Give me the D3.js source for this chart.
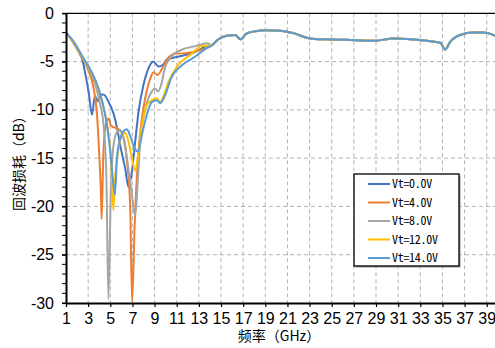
<!DOCTYPE html>
<html>
<head>
<meta charset="utf-8">
<script src="https://cdn.jsdelivr.net/npm/d3@7"></script>
<style>
  html, body { margin: 0; padding: 0; background: #fff; }
  svg { display: block; }
</style>
</head>
<body>
<svg id="chart" width="495" height="348"></svg>
<script>
// Return loss versus frequency for five bias voltages.
const seriesNames = ["Vt=0.0V", "Vt=4.0V", "Vt=8.0V", "Vt=12.0V", "Vt=14.0V"];
const seriesColors = ["#4472C4", "#ED7D31", "#A5A5A5", "#FFC000", "#5B9BD5"];

// Low band (1–14 GHz), where the bias voltage shifts the resonances: [GHz, dB]
const lowBand0V = [[1,-2.0],[1.4,-2.6],[1.8,-3.3],[2.2,-4.1],[2.5,-4.9],[2.75,-6.3],[3.05,-8.2],[3.35,-10.5],[3.6,-8.6],[3.9,-9.1],[4.05,-8.5],[4.4,-8.4],[4.85,-9.2],[5.3,-10.4],[5.6,-11.8],[5.9,-13.7],[6.35,-16.1],[6.65,-18.0],[6.95,-16.4],[7.25,-13.3],[7.55,-10.2],[8.0,-7.4],[8.45,-5.7],[8.9,-5.0],[9.35,-5.5],[9.7,-5.4],[10.1,-4.8],[11.1,-4.5],[12.5,-4.1],[13.7,-3.4]];
const lowBand4V = [[1,-2.0],[1.4,-2.6],[1.8,-3.3],[2.2,-4.1],[2.6,-4.9],[3.05,-6.0],[3.5,-7.8],[3.8,-10.5],[4.0,-14.5],[4.15,-18.5],[4.22,-21.3],[4.35,-15.5],[4.55,-11.8],[4.85,-10.9],[5.05,-11.6],[5.3,-11.8],[5.6,-11.9],[6.05,-12.4],[6.5,-15.2],[6.8,-20.2],[6.97,-29.9],[7.2,-22.0],[7.5,-15.0],[7.85,-10.9],[8.15,-8.8],[8.6,-6.8],[8.9,-6.1],[9.25,-6.4],[9.7,-5.7],[10.1,-4.8],[10.85,-4.2],[12.0,-4.1],[13.1,-3.8]];
const lowBand8V = [[1,-2.0],[1.4,-2.6],[1.8,-3.2],[2.2,-4.0],[2.6,-4.8],[3.05,-5.7],[3.65,-7.4],[4.1,-9.5],[4.4,-11.6],[4.65,-17.0],[4.83,-29.6],[5.05,-18.5],[5.3,-13.6],[5.6,-12.3],[5.9,-12.1],[6.2,-13.0],[6.5,-15.0],[6.9,-18.3],[7.25,-21.0],[7.5,-17.0],[7.7,-13.3],[8.1,-10.2],[8.75,-8.1],[9.05,-7.8],[9.3,-8.1],[9.6,-7.4],[9.9,-5.8],[10.5,-4.5],[11.4,-3.8],[12.7,-3.4],[13.7,-3.1]];
const lowBand12V = [[1,-2.0],[1.4,-2.6],[1.8,-3.2],[2.2,-4.0],[2.6,-4.8],[3.05,-5.6],[3.65,-7.0],[4.25,-9.1],[4.55,-10.5],[4.85,-12.6],[5.1,-15.7],[5.27,-20.4],[5.45,-16.8],[5.75,-14.0],[6.05,-12.6],[6.35,-12.4],[6.65,-13.3],[6.95,-15.0],[7.25,-16.3],[7.55,-14.3],[7.85,-11.6],[8.3,-9.5],[8.75,-9.0],[9.2,-8.8],[9.5,-9.2],[9.8,-8.6],[10.25,-7.1],[11.1,-5.4],[12.35,-4.2],[13.2,-3.4]];
const lowBand14V = [[1,-2.0],[1.4,-2.5],[1.8,-3.1],[2.2,-3.9],[2.6,-4.7],[3.05,-5.5],[3.65,-6.9],[4.25,-9.0],[4.7,-11.6],[5.0,-14.3],[5.2,-16.8],[5.42,-18.8],[5.6,-15.0],[5.9,-13.0],[6.2,-12.2],[6.5,-12.0],[6.8,-12.7],[7.2,-14.0],[7.5,-14.3],[7.85,-12.6],[8.3,-10.5],[8.75,-9.2],[9.2,-9.0],[9.5,-9.3],[9.95,-8.5],[10.5,-6.7],[11.45,-5.4],[12.65,-4.5],[13.7,-3.6]];

// Upper band (14–40 GHz), where all five traces coincide: [GHz, dB]
const highBand = [[14.2,-3.3],[14.6,-2.85],[14.9,-2.6],[15.6,-2.3],[16.3,-2.25],[16.75,-2.7],[17.3,-2.1],[18.1,-1.85],[19.1,-1.75],[20.3,-1.8],[21.5,-2.05],[23.0,-2.6],[24.5,-2.7],[26.3,-2.75],[28.8,-2.85],[30.6,-2.6],[31.8,-2.65],[33.6,-2.85],[34.8,-3.05],[35.25,-3.75],[35.7,-2.95],[36.6,-2.25],[37.8,-2.0],[38.7,-2.0],[40,-2.45]];

const xTickValues = d3.range(1, 40, 2);           // 1, 3, ..., 39
const yTickValues = [0, -5, -10, -15, -20, -25, -30];
const yMinorTicks = d3.range(-30, 1, 1);

const lowBands = [lowBand0V, lowBand4V, lowBand8V, lowBand12V, lowBand14V];
const series = seriesNames.map((name, i) => ({
  name, color: seriesColors[i], points: lowBands[i].concat(highBand)
}));

const svg = d3.select("#chart");
const plot = { left: 66, right: 497.8, top: 13.3, bottom: 303 };

const x = d3.scaleLinear().domain([1, 40]).range([plot.left, plot.right]);
const y = d3.scaleLinear().domain([-30, 0]).range([plot.bottom, plot.top]);

// dashed grid
const grid = svg.append("g").attr("stroke", "#b3b3b3").attr("stroke-width", 1)
  .attr("stroke-dasharray", "4,3");
grid.selectAll("line.v").data(xTickValues.filter(d => d > 1)).join("line")
  .attr("x1", d => x(d)).attr("x2", d => x(d))
  .attr("y1", plot.top).attr("y2", plot.bottom);
grid.selectAll("line.h").data(yTickValues.filter(d => d < 0 && d > -30)).join("line")
  .attr("x1", plot.left).attr("x2", plot.right)
  .attr("y1", d => y(d)).attr("y2", d => y(d));

// traces
const line = d3.line().x(d => x(d[0])).y(d => y(d[1])).curve(d3.curveMonotoneX);
svg.append("defs").append("clipPath").attr("id", "plotClip")
  .append("rect").attr("x", plot.left).attr("y", plot.top - 2)
  .attr("width", plot.right - plot.left).attr("height", plot.bottom - plot.top + 2);
svg.append("g").attr("clip-path", "url(#plotClip)")
  .selectAll("path").data(series).join("path")
  .attr("fill", "none").attr("stroke", d => d.color)
  .attr("stroke-width", 2).attr("stroke-linejoin", "round")
  .attr("d", d => line(d.points));

// top frame line
svg.append("line").attr("x1", plot.left).attr("x2", plot.right)
  .attr("y1", plot.top).attr("y2", plot.top)
  .attr("stroke", "#000").attr("stroke-width", 1.3);

// axes
const xAxis = d3.axisBottom(x).tickValues(xTickValues).tickSize(4).tickSizeOuter(0)
  .tickFormat(d3.format("d"));
const gx = svg.append("g").attr("transform", `translate(0,${plot.bottom})`).call(xAxis);
gx.select(".domain").attr("stroke", "#000").attr("stroke-width", 2);
gx.selectAll(".tick line").attr("stroke", "#000").attr("stroke-width", 1.2);
gx.selectAll(".tick text").attr("font-family", "'Liberation Sans', Arial, sans-serif")
  .attr("font-size", 16).attr("fill", "#000").attr("dy", "0.92em").attr("y", 6);

const yAxis = d3.axisLeft(y).tickValues(yTickValues).tickSize(4).tickSizeOuter(0)
  .tickFormat(d => d3.format("d")(d).replace("−", "-"));
const gy = svg.append("g").attr("transform", `translate(${plot.left},0)`).call(yAxis);
gy.select(".domain").attr("stroke", "#000").attr("stroke-width", 2);
gy.selectAll(".tick line").attr("stroke", "#000").attr("stroke-width", 1.2);
gy.selectAll(".tick text").attr("font-family", "'Liberation Sans', Arial, sans-serif")
  .attr("font-size", 16).attr("fill", "#000").attr("x", -12);
gy.selectAll("line.minor").data(yMinorTicks).join("line").attr("class", "minor")
  .attr("x1", -4).attr("x2", 0).attr("y1", d => y(d)).attr("y2", d => y(d))
  .attr("stroke", "#000").attr("stroke-width", 1);

// axis titles
svg.append("text").attr("x", 279).attr("y", 341).attr("text-anchor", "middle")
  .attr("font-family", "'Noto Sans CJK SC', sans-serif").attr("font-size", 14)
  .text("频率（GHz）");
svg.append("text").attr("transform", `translate(24,${(plot.top + plot.bottom) / 2 + 2}) rotate(-90)`)
  .attr("text-anchor", "middle")
  .attr("font-family", "'Noto Sans CJK SC', sans-serif").attr("font-size", 14)
  .text("回波损耗（dB）");

// legend
const legend = svg.append("g").attr("transform", "translate(354,174)");
legend.append("rect").attr("x", 1.5).attr("y", 1.5).attr("width", 105).attr("height", 92)
  .attr("fill", "#9a9a9a");
legend.append("rect").attr("width", 105).attr("height", 92)
  .attr("fill", "#fff").attr("stroke", "#000").attr("stroke-width", 1.3);
const rows = legend.selectAll("g.row").data(series).join("g").attr("class", "row")
  .attr("transform", (d, i) => `translate(0,${10 + i * 18.5})`);
rows.append("line").attr("x1", 14).attr("x2", 36).attr("stroke", d => d.color)
  .attr("stroke-width", 2);
rows.append("text").attr("x", 38).attr("dy", "0.36em")
  .attr("font-family", "'Noto Sans Mono CJK SC', 'DejaVu Sans Mono', monospace")
  .attr("font-size", 12).attr("letter-spacing", -0.3).text(d => d.name);
</script>
</body>
</html>
